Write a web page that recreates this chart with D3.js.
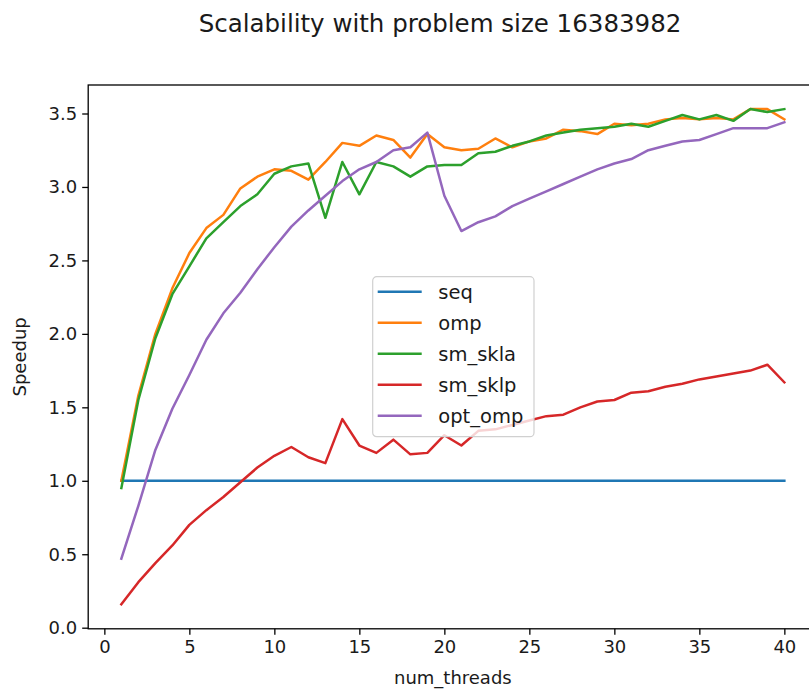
<!DOCTYPE html>
<html>
<head>
<meta charset="utf-8">
<script src="https://cdn.jsdelivr.net/npm/d3@7"></script>
<style>
  body { margin: 0; background: #fff; }
  svg { display: block; font-family: "DejaVu Sans", sans-serif; }
</style>
</head>
<body>
<div id="chart"></div>
<script>
// thread counts 1..40
const threads = [1,2,3,4,5,6,7,8,9,10,11,12,13,14,15,16,17,18,19,20,
                 21,22,23,24,25,26,27,28,29,30,31,32,33,34,35,36,37,38,39,40];

const seq = [1,1,1,1,1,1,1,1,1,1,1,1,1,1,1,1,1,1,1,1,
             1,1,1,1,1,1,1,1,1,1,1,1,1,1,1,1,1,1,1,1];
const omp = [1.00,1.58,2.00,2.31,2.55,2.72,2.81,2.99,3.07,3.12,
             3.11,3.05,3.17,3.30,3.28,3.35,3.32,3.20,3.36,3.27,
             3.25,3.26,3.33,3.27,3.31,3.33,3.39,3.38,3.36,3.43,
             3.42,3.43,3.46,3.47,3.46,3.47,3.46,3.53,3.53,3.46];
const sm_skla = [0.95,1.55,1.97,2.27,2.46,2.65,2.76,2.87,2.95,3.09,
                 3.14,3.16,2.79,3.17,2.95,3.17,3.14,3.07,3.14,3.15,
                 3.15,3.23,3.24,3.28,3.31,3.35,3.37,3.39,3.40,3.41,
                 3.43,3.41,3.45,3.49,3.46,3.49,3.45,3.53,3.51,3.53];
const sm_sklp = [0.16,0.31,0.44,0.56,0.70,0.80,0.89,0.99,1.09,1.17,
                 1.23,1.16,1.12,1.42,1.24,1.19,1.28,1.18,1.19,1.31,
                 1.24,1.34,1.35,1.38,1.41,1.44,1.45,1.50,1.54,1.55,
                 1.60,1.61,1.64,1.66,1.69,1.71,1.73,1.75,1.79,1.67];
const opt_omp = [0.47,0.83,1.21,1.49,1.72,1.96,2.14,2.28,2.44,2.59,
                 2.73,2.84,2.94,3.04,3.12,3.17,3.25,3.27,3.37,2.94,
                 2.70,2.76,2.80,2.87,2.92,2.97,3.02,3.07,3.12,3.16,
                 3.19,3.25,3.28,3.31,3.32,3.36,3.40,3.40,3.40,3.44];

const seriesNames = ["seq", "omp", "sm_skla", "sm_sklp", "opt_omp"];
const seriesValues = [seq, omp, sm_skla, sm_sklp, opt_omp];
const colors = ["#1f77b4", "#ff7f0e", "#2ca02c", "#d62728", "#9467bd"];

const xTicks = [0, 5, 10, 15, 20, 25, 30, 35, 40];
const yTicks = [0.0, 0.5, 1.0, 1.5, 2.0, 2.5, 3.0, 3.5];

const width = 809, height = 693;
const plot = { left: 88.2, right: 817.5, top: 85, bottom: 628.8 };

const svg = d3.select("#chart").append("svg")
    .attr("width", width)
    .attr("height", height);

// scales (matplotlib style 5% margins)
const x = d3.scaleLinear().domain([-0.95, 41.95]).range([plot.left, plot.right]);
const y = d3.scaleLinear().domain([-0.0075, 3.694]).range([plot.bottom, plot.top]);

// title
svg.append("text")
    .attr("x", 440)
    .attr("y", 32)
    .attr("text-anchor", "middle")
    .style("font-size", "24.5px")
    .style("fill", "#1a1a1a")
    .text("Scalability with problem size 16383982");

// lines
const line = d3.line()
    .x((d, i) => x(threads[i]))
    .y(d => y(d));

const lines = svg.append("g");
seriesValues.forEach((vals, k) => {
    lines.append("path")
        .datum(vals)
        .attr("fill", "none")
        .attr("stroke", colors[k])
        .attr("stroke-width", 2.5)
        .attr("stroke-linejoin", "round")
        .attr("stroke-linecap", "square")
        .attr("d", line);
});

// axes
const xAxis = svg.append("g")
    .attr("transform", `translate(0, ${plot.bottom})`)
    .call(d3.axisBottom(x).tickValues(xTicks).tickSizeOuter(0).tickSize(6).tickPadding(5));
const yAxis = svg.append("g")
    .attr("transform", `translate(${plot.left}, 0)`)
    .call(d3.axisLeft(y).tickValues(yTicks).tickFormat(d3.format(".1f")).tickSizeOuter(0).tickSize(6).tickPadding(5));

[xAxis, yAxis].forEach(a => {
    a.select(".domain").remove();
    a.selectAll("line").attr("stroke", "#000").attr("stroke-width", 1.3);
    a.selectAll("text").style("font-size", "18px").style("font-family", "DejaVu Sans, sans-serif").attr("fill", "#1a1a1a");
});

// spines
svg.append("rect")
    .attr("x", plot.left)
    .attr("y", plot.top)
    .attr("width", plot.right - plot.left)
    .attr("height", plot.bottom - plot.top)
    .attr("fill", "none")
    .attr("stroke", "#000")
    .attr("stroke-width", 1.3);

// axis labels
svg.append("text")
    .attr("x", (plot.left + plot.right) / 2)
    .attr("y", 684)
    .attr("text-anchor", "middle")
    .style("font-size", "18px")
    .style("fill", "#1a1a1a")
    .text("num_threads");

svg.append("text")
    .attr("transform", `translate(26, ${(plot.top + plot.bottom) / 2}) rotate(-90)`)
    .attr("text-anchor", "middle")
    .style("font-size", "18px")
    .style("fill", "#1a1a1a")
    .text("Speedup");

// legend
const legend = svg.append("g").attr("transform", "translate(372.7, 276.7)");
legend.append("rect")
    .attr("width", 161.3)
    .attr("height", 160)
    .attr("rx", 4)
    .attr("fill", "#fff")
    .attr("fill-opacity", 0.8)
    .attr("stroke", "#d0d0d0")
    .attr("stroke-width", 1.2);

seriesNames.forEach((name, k) => {
    const yy = 15 + k * 31;
    legend.append("line")
        .attr("x1", 5).attr("x2", 49)
        .attr("y1", yy).attr("y2", yy)
        .attr("stroke", colors[k])
        .attr("stroke-width", 2.5);
    legend.append("text")
        .attr("x", 65.6)
        .attr("y", yy)
        .attr("dy", "0.35em")
        .style("font-size", "19.5px")
        .style("fill", "#1a1a1a")
        .text(name);
});
</script>
</body>
</html>
